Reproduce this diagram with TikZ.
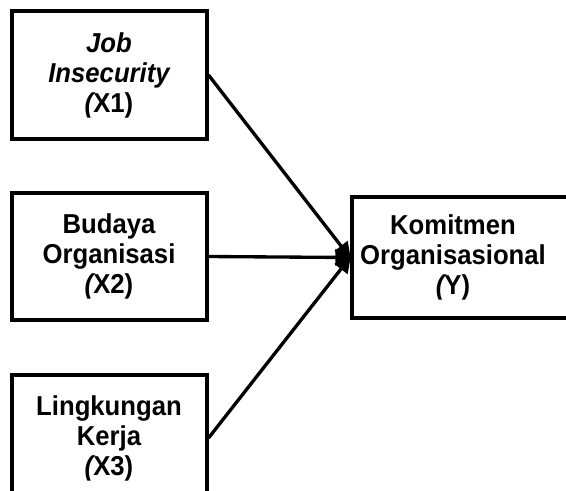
\documentclass[tikz,border=0pt]{standalone}
\usepackage{fontspec}
\setmainfont[FakeStretch=0.94]{Liberation Sans}
\usetikzlibrary{arrows.meta}
\tikzset{
  box/.style={draw=black, line width=3pt, fill=white, inner sep=0pt},
  txt/.style={font=\fontsize{20.5pt}{22.5pt}\selectfont\bfseries, align=center, inner sep=0pt},
  conn/.style={line width=2.5pt, -{Triangle[length=12pt,width=12pt]}, shorten >=-1pt}
}
\begin{document}
\begin{tikzpicture}[x=0.75pt,y=-0.75pt]
\useasboundingbox (0,0) rectangle (566,490);
\clip (0,0) rectangle (566,490);
\node[box, minimum width=146.25pt, minimum height=96pt] (x1) at (109,75) {};
\node[txt] (t1) at (x1.center) {\itshape Job\\ \itshape Insecurity\\ {\itshape (}X1)};
\node[box, minimum width=146.25pt, minimum height=95pt] (x2) at (109,256.5) {};
\node[txt] (t2) at (x2.center) {Budaya\\ Organisasi\\ {\itshape (}X2)};
\node[box, minimum width=146.25pt, minimum height=94.5pt] (x3) at (109,438) {};
\node[txt] (t3) at (x3.center) {Lingkungan\\ Kerja\\ {\itshape (}X3)};
\node[box, minimum width=190pt, minimum height=90.75pt, anchor=west] (y) at (350,257.5) {};
\node[txt] (ty) at (453,257.5) {Komitmen\\ Organisasional\\ {\itshape (}Y)};
\draw[conn] (x1.east) -- (y.west);
\draw[conn] (x2.east) -- (y.west);
\draw[conn] (x3.east) -- (y.west);
\end{tikzpicture}
\end{document}
